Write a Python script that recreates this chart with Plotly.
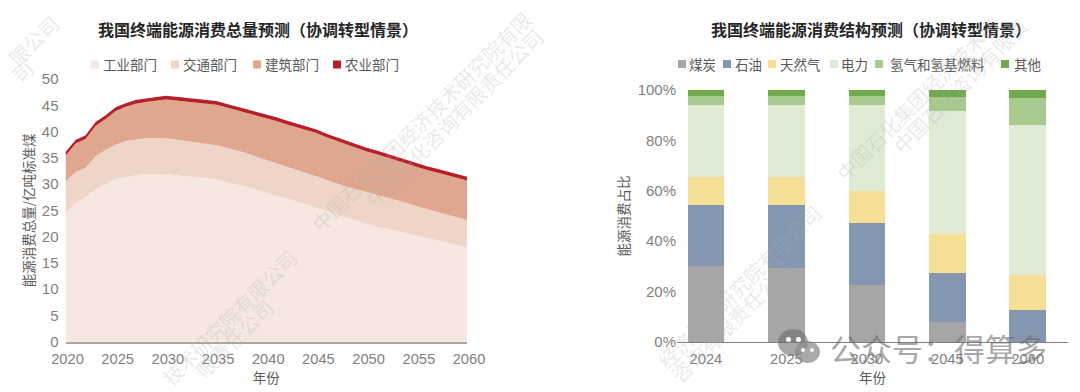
import plotly.graph_objects as go

W, H = 1080, 392
CJK = "Noto Sans CJK SC"
LAT = "Liberation Sans, Noto Sans CJK SC"

years = list(range(2020, 2061))
industry = [24.5,26.4,27.5,29.0,29.9,31.0,31.3,31.7,31.9,31.9,31.9,31.7,31.5,31.3,31.1,30.9,30.4,30.0,29.5,28.9,28.3,27.8,27.3,26.7,26.2,25.6,25.0,24.3,23.6,23.0,22.4,21.9,21.5,21.0,20.6,20.2,19.7,19.3,18.9,18.4,18.0]
transport = [6.0,5.9,5.6,6.3,6.6,6.5,6.9,6.8,6.8,6.8,6.8,6.8,6.7,6.7,6.6,6.5,6.5,6.4,6.4,6.3,6.3,6.2,6.1,6.1,5.9,5.9,5.8,5.8,5.9,6.0,6.1,6.1,6.0,5.9,5.8,5.6,5.6,5.5,5.3,5.3,5.1]
building = [4.9,5.4,5.5,5.8,5.9,6.4,6.5,6.8,6.9,7.2,7.4,7.4,7.5,7.5,7.6,7.7,7.7,7.7,7.7,7.9,8.0,8.0,8.0,8.0,8.2,8.2,8.1,8.1,8.0,7.8,7.7,7.7,7.6,7.6,7.4,7.4,7.4,7.4,7.5,7.5,7.6]
agriculture = [0.7] * 41
area_names = ["工业部门", "交通部门", "建筑部门", "农业部门"]
area_colors = ["#f6e8e0", "#efd5c8", "#dea78e", "#b5202a"]

bar_years = ["2024", "2025", "2030", "2045", "2060"]
coal = [30.2, 29.4, 22.8, 8.1, 0.2]
oil = [24.3, 25.0, 24.4, 19.4, 12.5]
gas = [10.8, 10.9, 12.6, 15.4, 13.7]
power = [28.9, 28.9, 34.4, 48.9, 59.8]
hydrogen = [3.4, 3.4, 3.3, 5.6, 10.8]
other = [2.4, 2.4, 2.5, 2.6, 3.0]
bar_names = ["煤炭", "石油", "天然气", "电力", "氢气和氢基燃料", "其他"]
bar_colors = ["#a6a6a6", "#8496b0", "#f7df96", "#e0ebd6", "#a9ca8e", "#70a84b"]

title_left = "我国终端能源消费总量预测（协调转型情景）"
title_right = "我国终端能源消费结构预测（协调转型情景）"

def px(x): return x / W
def py(y): return 1 - y / H

fig = go.Figure()
for name, vals, col in zip(area_names, [industry, transport, building, agriculture], area_colors):
    fig.add_trace(go.Scatter(x=years, y=vals, name=name, stackgroup="a", mode="lines",
                             line=dict(width=0, color=col), fillcolor=col, showlegend=False,
                             xaxis="x", yaxis="y"))
for name, vals, col in zip(bar_names, [coal, oil, gas, power, hydrogen, other], bar_colors):
    fig.add_trace(go.Bar(x=bar_years, y=vals, name=name, marker=dict(color=col, line=dict(width=0)),
                         width=0.455, showlegend=False, xaxis="x2", yaxis="y2"))

ann, shapes = [], []
def text(x, y, s, size=13.5, color="#595959", anchor="center", angle=0, family=CJK):
    ann.append(dict(x=px(x), y=py(y), xref="paper", yref="paper", text=s, showarrow=False,
                    xanchor=anchor, yanchor="middle", textangle=angle,
                    font=dict(size=size, color=color, family=family)))

# titles
text(258, 29, "<b>" + title_left + "</b>", size=16, color="#262626")
text(871, 29, "<b>" + title_right + "</b>", size=16, color="#262626")

# legends
def swatch(x0, x1, yc, col):
    shapes.append(dict(type="rect", xref="paper", yref="paper", x0=px(x0), x1=px(x1),
                       y0=py(yc + 4), y1=py(yc - 4), fillcolor=col, line=dict(width=0)))

for name, col, sx, tx in zip(area_names, area_colors, [91, 171, 253, 333], [101, 181, 263, 343]):
    swatch(sx, sx + 8, 64.5, col)
    text(tx, 64, name, anchor="left")
for name, col, sx, tx in zip(bar_names, bar_colors, [678, 723, 768, 830, 875, 1001], [687, 733, 778, 839, 888, 1012]):
    swatch(sx, sx + 8, 64, col)
    text(tx, 64, name, anchor="left")

# watermarks
WM = "rgba(175,175,175,0.28)"
for cx, cy, s in [
    (34, 41, "限公司"), (22, 71, "司"),
    (229, 317, "技术研究院有限公司"), (234, 338, "限责任公司"),
    (421, 121, "中国石化集团经济技术研究院有限"), (454, 117, "中国石化咨询有限责任公司"),
    (918, 99, "中国石化集团经济技术研"), (960, 85, "中国石化咨询有限责"),
    (739, 286, "经济技术研究院有限公司"), (731, 321, "咨询有限责任公司"),
]:
    text(cx, cy, s, size=20, color=WM, angle=-45)

# account mark
MARK = "rgba(110,110,110,0.6)"
for x0, x1, y0, y1, col in [(778, 808, 329, 356, MARK), (795, 820, 341, 363, "rgba(140,140,140,0.75)"),
                            (786, 791, 337, 342, "#ffffff"), (796, 801, 337, 342, "#ffffff"),
                            (801, 805, 348, 352, "#ffffff"), (810, 814, 348, 352, "#ffffff")]:
    shapes.append(dict(type="circle", xref="paper", yref="paper", x0=px(x0), x1=px(x1),
                       y0=py(y1), y1=py(y0), fillcolor=col, line=dict(width=0)))
text(938, 347, "公众号：得算多", size=31, color="rgba(110,110,110,0.6)")

fig.update_layout(
    width=W, height=H, margin=dict(l=0, r=0, t=0, b=0), paper_bgcolor="white", plot_bgcolor="rgba(0,0,0,0)",
    barmode="stack", showlegend=False, annotations=ann, shapes=shapes,
    font=dict(family=LAT, size=15, color="#7f7f7f"),
    xaxis=dict(domain=[px(65.5), px(467)], range=[2020, 2060], tick0=2020, dtick=5, showgrid=False,
               zeroline=False, showline=True, linecolor="#a6a6a6", linewidth=2, ticks="", automargin=False,
               ticklabelstandoff=3, ticklabelshift=2, tickfont=dict(size=14.7, color="#7f7f7f", family=LAT),
               title=dict(text="年份", font=dict(size=13.5, color="#595959", family=CJK), standoff=6)),
    yaxis=dict(domain=[py(341.7), py(79)], range=[0, 50], dtick=5, showgrid=False, zeroline=False, automargin=False,
               showline=False, ticks="", ticklabelstandoff=6,
               tickfont=dict(size=15, color="#7f7f7f", family=LAT),
               title=dict(text="能源消费总量/亿吨标准煤", font=dict(size=13.5, color="#595959", family=CJK), standoff=4)),
    xaxis2=dict(domain=[px(677), px(1068)], range=[-0.36, 4.5], type="category", showgrid=False, automargin=False,
                zeroline=False, showline=True, linecolor="#7f7f7f", linewidth=1, ticks="",
                ticklabelstandoff=3, tickfont=dict(size=14.7, color="#7f7f7f", family=LAT),
                anchor="y2",
                title=dict(text="年份", font=dict(size=13.5, color="#595959", family=CJK), standoff=6)),
    yaxis2=dict(domain=[py(342), py(90)], range=[0, 100], dtick=20, ticksuffix="%", showgrid=False, automargin=False,
                zeroline=False, showline=False, ticks="", anchor="x2",
                tickfont=dict(size=15, color="#7f7f7f", family=LAT),
                title=dict(text="能源消费占比", font=dict(size=13.5, color="#595959", family=CJK), standoff=4)),
)

fig.write_html("out.html", config=dict(displayModeBar=False),
               post_script="document.body.style.margin='0';document.body.style.overflow='hidden';")
